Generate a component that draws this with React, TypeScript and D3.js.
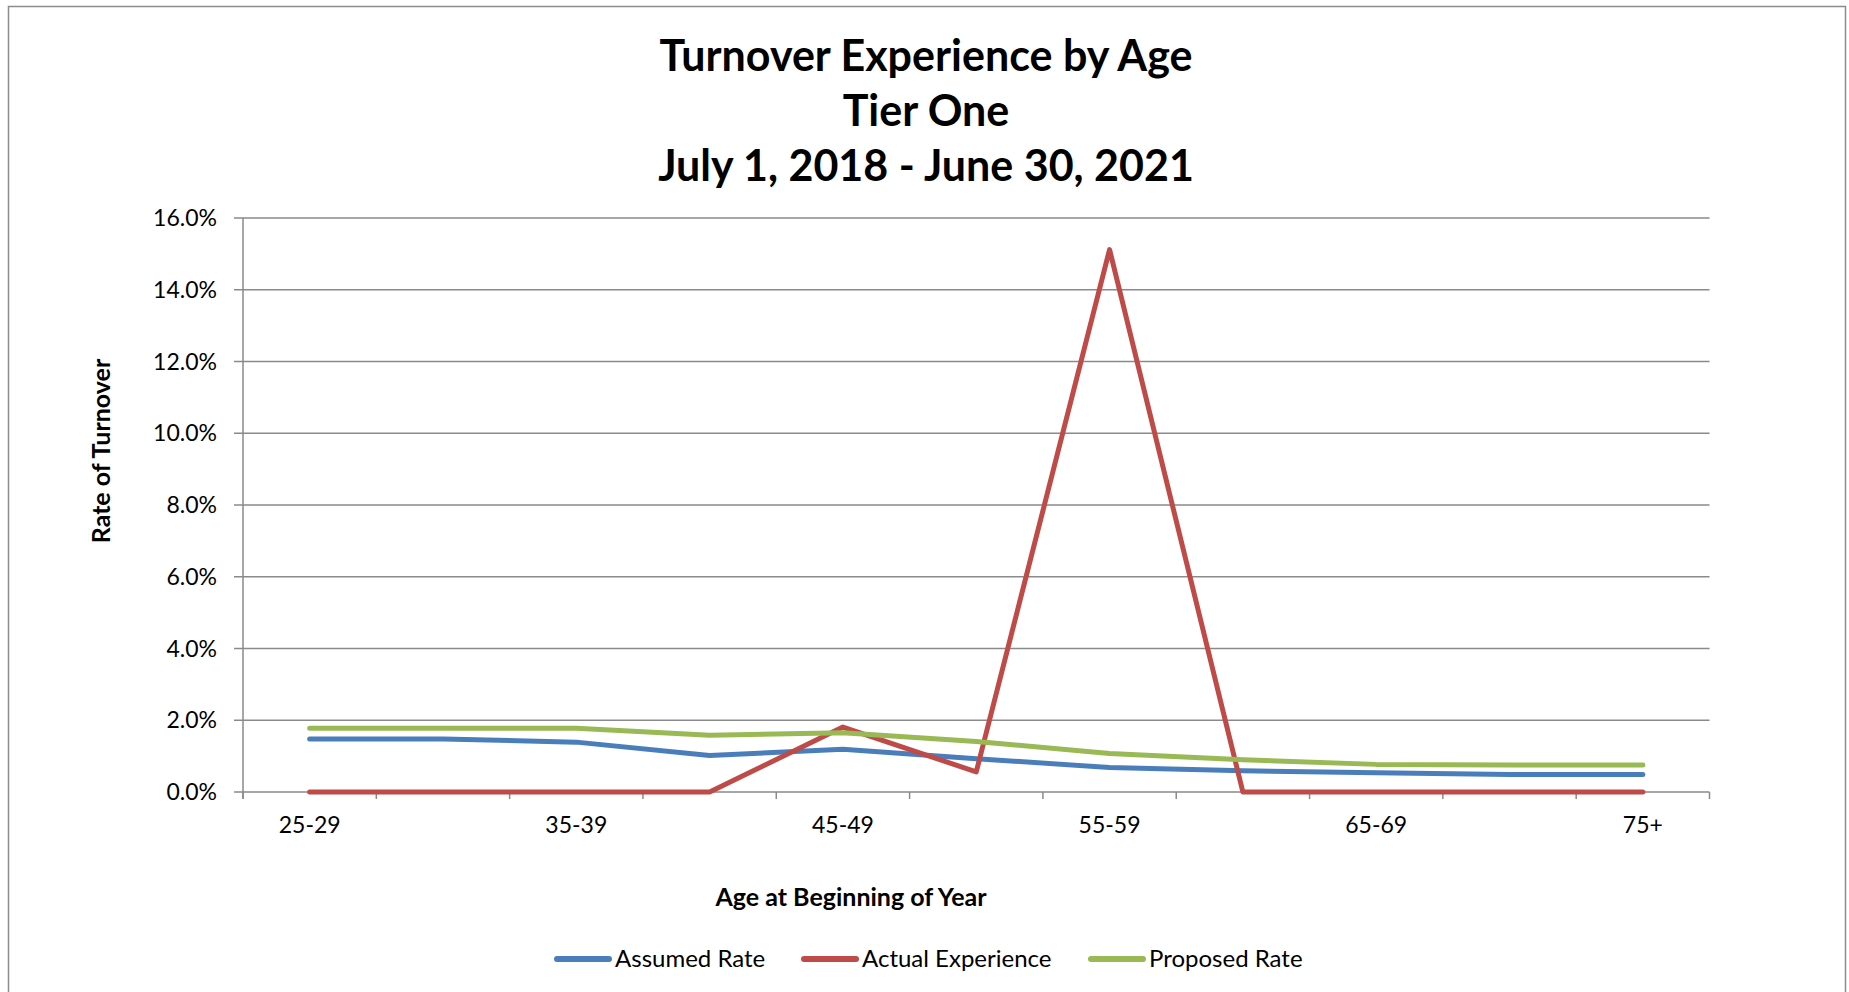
import React from 'react';
import * as d3 from 'd3';

const categories = ['25-29', '30-34', '35-39', '40-44', '45-49', '50-54', '55-59', '60-64', '65-69', '70-74', '75+'];
const assumedRate = [1.48, 1.48, 1.39, 1.02, 1.19, 0.93, 0.68, 0.59, 0.54, 0.49, 0.49];
const actualExperience = [0, 0, 0, 0, 1.81, 0.56, 15.12, 0, 0, 0, 0];
const proposedRate = [1.78, 1.78, 1.78, 1.58, 1.65, 1.41, 1.07, 0.9, 0.77, 0.75, 0.75];
const yTicks = [0, 2, 4, 6, 8, 10, 12, 14, 16];
const titleLines = ['Turnover Experience by Age', 'Tier One', 'July 1, 2018 - June 30, 2021'];

const series = [
  { name: 'Assumed Rate', values: assumedRate, color: '#4A7EBB' },
  { name: 'Actual Experience', values: actualExperience, color: '#BE4B48' },
  { name: 'Proposed Rate', values: proposedRate, color: '#98B954' },
];

const W = 1849;
const H = 992;
const plot = { left: 243, right: 1709.5, top: 218, bottom: 792 };
const font = 'Lato, "Open Sans", sans-serif';
const gridColor = '#8a8a8a';

export default function App() {
  const x = d3.scaleBand().domain(categories).range([plot.left, plot.right]).padding(0);
  const y = d3.scaleLinear().domain([0, 16]).range([plot.bottom, plot.top]);
  const cx = (c: string) => (x(c) as number) + x.bandwidth() / 2;

  const line = d3
    .line<number>()
    .x((_, i) => cx(categories[i]))
    .y(d => y(d));

  // tick marks sit between categories
  const boundaries = categories.map(c => x(c) as number).concat([plot.right]);

  const legendX = [557, 804, 1091];

  return (
    <svg
      width={W}
      height={H}
      style={{ position: 'absolute', left: 0, top: 0, background: '#fff' }}
      fontFamily={font}
    >
      <rect x={8.5} y={6.5} width={1837} height={1000} fill="#fff" stroke="#8c8c8c" strokeWidth={1.5} />

      {titleLines.map((t, i) => (
        <text
          key={t}
          x={926}
          y={71 + i * 55}
          textAnchor="middle"
          fontSize={43}
          fontWeight="bold"
          fill="#000"
        >
          {t}
        </text>
      ))}

      {/* gridlines */}
      {yTicks.map(t => (
        <g key={t}>
          <line x1={plot.left - 9} x2={plot.right} y1={y(t)} y2={y(t)} stroke={gridColor} strokeWidth={1.5} />
          <text x={217} y={y(t)} dy="0.35em" textAnchor="end" fontSize={23} fill="#000">
            {t.toFixed(1) + '%'}
          </text>
        </g>
      ))}

      {/* axes */}
      <line x1={plot.left} x2={plot.left} y1={plot.top} y2={plot.bottom + 7} stroke={gridColor} strokeWidth={1.5} />
      {boundaries.map((b, i) => (
        <line key={i} x1={b} x2={b} y1={plot.bottom} y2={plot.bottom + 7} stroke={gridColor} strokeWidth={1.5} />
      ))}
      {categories.map((c, i) =>
        i % 2 === 0 ? (
          <text key={c} x={cx(c)} y={825} dy="0.35em" textAnchor="middle" fontSize={23} fill="#000">
            {c}
          </text>
        ) : null
      )}

      <text
        transform="translate(101,451) rotate(-90)"
        textAnchor="middle"
        dy="0.35em"
        fontSize={25}
        fontWeight="bold"
        fill="#000"
      >
        Rate of Turnover
      </text>
      <text x={851} y={897} dy="0.35em" textAnchor="middle" fontSize={25} fontWeight="bold" fill="#000">
        Age at Beginning of Year
      </text>

      {/* series */}
      {series.map(s => (
        <path
          key={s.name}
          d={line(s.values) || ''}
          fill="none"
          stroke={s.color}
          strokeWidth={5}
          strokeLinejoin="round"
          strokeLinecap="round"
        />
      ))}

      {/* legend */}
      {series.map((s, i) => (
        <g key={s.name}>
          <line
            x1={legendX[i]}
            x2={legendX[i] + 52}
            y1={959}
            y2={959}
            stroke={s.color}
            strokeWidth={6}
            strokeLinecap="round"
          />
          <text x={legendX[i] + 58} y={959} dy="0.35em" fontSize={24} fill="#000">
            {s.name}
          </text>
        </g>
      ))}
    </svg>
  );
}
